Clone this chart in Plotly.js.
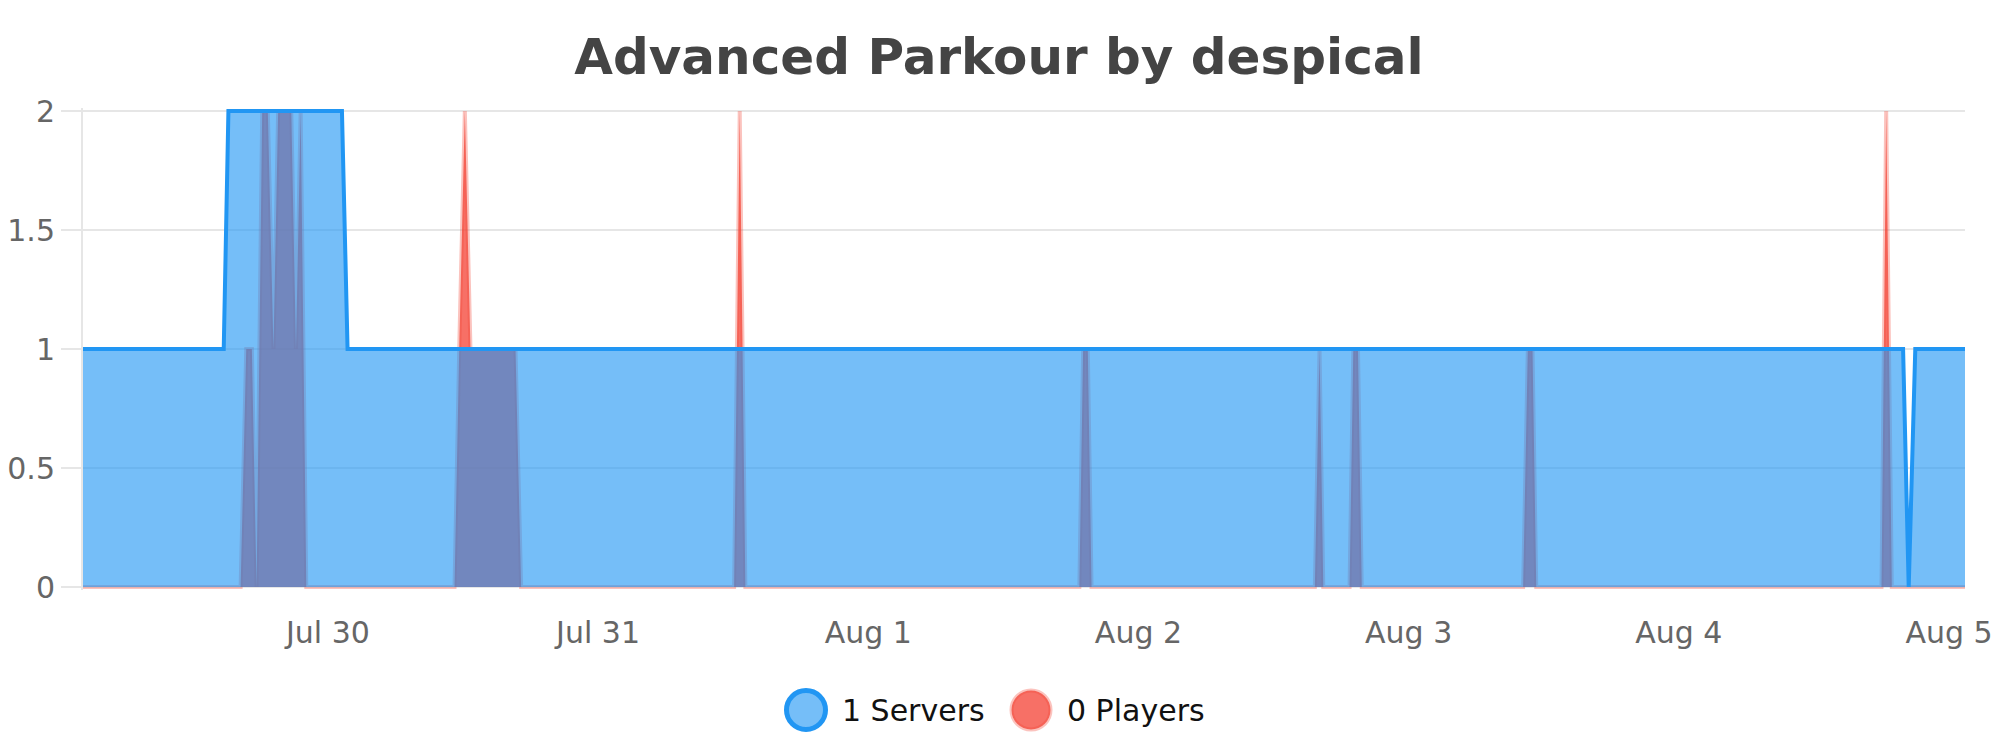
<!DOCTYPE html>
<html>
<head>
<meta charset="utf-8">
<script src="https://cdn.plot.ly/plotly-3.0.1.min.js"></script>
<style>
  html, body { margin: 0; padding: 0; background: #fff; }
  #chart { width: 2000px; height: 750px; }
</style>
</head>
<body>
<div id="chart"></div>
<script>
// ---- data (vertices where the value changes) ----
const serverTimes = [
  "2024-07-29 02:15", "2024-07-29 14:45", "2024-07-29 15:10",
  "2024-07-30 01:15", "2024-07-30 01:45",
  "2024-08-04 19:55", "2024-08-04 20:25", "2024-08-04 21:00",
  "2024-08-05 01:25"
];
const serverValues = [1, 1, 2, 2, 1, 1, 0, 1, 1];

const playerTimes = [
  "2024-07-29 02:15", "2024-07-29 16:15", "2024-07-29 16:45", "2024-07-29 17:15",
  "2024-07-29 17:40", "2024-07-29 18:10", "2024-07-29 18:40", "2024-07-29 19:10",
  "2024-07-29 19:35", "2024-07-29 20:45", "2024-07-29 21:10", "2024-07-29 21:35",
  "2024-07-29 22:05",
  "2024-07-30 11:15", "2024-07-30 11:40", "2024-07-30 12:10", "2024-07-30 12:40",
  "2024-07-30 16:40", "2024-07-30 17:10",
  "2024-07-31 12:05", "2024-07-31 12:35", "2024-07-31 13:05",
  "2024-08-01 18:45", "2024-08-01 19:05", "2024-08-01 19:30", "2024-08-01 19:50",
  "2024-08-02 15:40", "2024-08-02 16:05", "2024-08-02 16:25",
  "2024-08-02 18:45", "2024-08-02 19:05", "2024-08-02 19:30", "2024-08-02 19:50",
  "2024-08-03 10:10", "2024-08-03 10:35", "2024-08-03 11:00", "2024-08-03 11:20",
  "2024-08-04 18:00", "2024-08-04 18:25", "2024-08-04 18:55",
  "2024-08-05 01:25"
];
const playerValues = [
  0, 0, 1, 1,
  0, 2, 2, 1,
  2, 2, 1, 2,
  0,
  0, 1, 2, 1,
  1, 0,
  0, 2, 0,
  0, 1, 1, 0,
  0, 1, 0,
  0, 1, 1, 0,
  0, 1, 1, 0,
  0, 2, 0,
  0
];

const yTickVals = [0, 0.5, 1, 1.5, 2];
const yTickText = ["0", "0.5", "1", "1.5", "2"];
const legendLabels = ["1 Servers", "0 Players"];
const chartTitle = "Advanced Parkour by despical";

// ---- styles ----
const FONT = "DejaVu Sans";
const BLUE = "rgb(33,150,243)";
const BLUE_FILL = "rgba(33,150,243,0.62)";
const RED_FILL = "rgba(244,67,54,0.76)";
const RED_LINE = "rgba(244,67,54,0.32)";

const traces = [
  {
    type: "scatter", mode: "lines", name: legendLabels[1],
    x: playerTimes, y: playerValues,
    fill: "tozeroy", fillcolor: RED_FILL,
    line: { color: RED_LINE, width: 4 },
    hoverinfo: "skip", showlegend: false
  },
  {
    type: "scatter", mode: "lines", name: legendLabels[0],
    x: serverTimes, y: serverValues,
    fill: "tozeroy", fillcolor: BLUE_FILL,
    line: { color: BLUE, width: 4 },
    hoverinfo: "skip", showlegend: false
  }
];

// plot area in pixels (for placing the custom legend)
const M = { l: 83, r: 35, t: 108, b: 160 };
const PW = 2000 - M.l - M.r, PH = 750 - M.t - M.b;
const px2x = p => (p - M.l) / PW;
const px2y = p => (750 - M.b - p) / PH;
const legY = px2y(710);

const layout = {
  width: 2000, height: 750,
  margin: { l: M.l, r: M.r, t: M.t, b: M.b, pad: 0 },
  paper_bgcolor: "#fff", plot_bgcolor: "#fff",
  showlegend: false,
  title: {
    text: chartTitle,
    font: { family: FONT, size: 50, color: "#444", weight: "bold" },
    x: 0.4995, xref: "container", xanchor: "center",
    y: 1 - 56 / 750, yref: "container", yanchor: "middle"
  },
  xaxis: {
    type: "date",
    range: [serverTimes[0], serverTimes[serverTimes.length - 1]],
    showgrid: false, zeroline: false, showline: false,
    tickformat: "%b %-d", dtick: 86400000, tick0: "2024-07-30",
    ticks: "", ticklabelstandoff: 22,
    tickfont: { family: FONT, size: 30, color: "#666" },
    fixedrange: true
  },
  yaxis: {
    range: [-0.0126, 2.0126],
    tickmode: "array", tickvals: yTickVals, ticktext: yTickText,
    showgrid: true, gridcolor: "#e6e6e6", gridwidth: 2,
    zeroline: false,
    showline: true, linecolor: "#e6e6e6", linewidth: 2,
    ticks: "outside", ticklen: 20, tickwidth: 2, tickcolor: "#e6e6e6",
    ticklabelstandoff: 0,
    tickfont: { family: FONT, size: 30, color: "#666" },
    fixedrange: true
  },
  shapes: [
    {
      type: "circle", xref: "paper", yref: "paper",
      xsizemode: "pixel", ysizemode: "pixel",
      xanchor: px2x(806), yanchor: legY,
      x0: -19.5, x1: 19.5, y0: -19.5, y1: 19.5,
      fillcolor: BLUE_FILL, line: { color: BLUE, width: 5 }
    },
    {
      type: "circle", xref: "paper", yref: "paper",
      xsizemode: "pixel", ysizemode: "pixel",
      xanchor: px2x(1031), yanchor: legY,
      x0: -19.5, x1: 19.5, y0: -19.5, y1: 19.5,
      fillcolor: RED_FILL, line: { color: RED_LINE, width: 4 }
    }
  ],
  annotations: [
    {
      text: legendLabels[0], xref: "paper", yref: "paper",
      x: px2x(840), y: legY, xanchor: "left", yanchor: "middle",
      showarrow: false, font: { family: FONT, size: 30, color: "#111" }
    },
    {
      text: legendLabels[1], xref: "paper", yref: "paper",
      x: px2x(1065), y: legY, xanchor: "left", yanchor: "middle",
      showarrow: false, font: { family: FONT, size: 30, color: "#111" }
    }
  ]
};

Plotly.newPlot("chart", traces, layout, { displayModeBar: false, staticPlot: true });
</script>
</body>
</html>
